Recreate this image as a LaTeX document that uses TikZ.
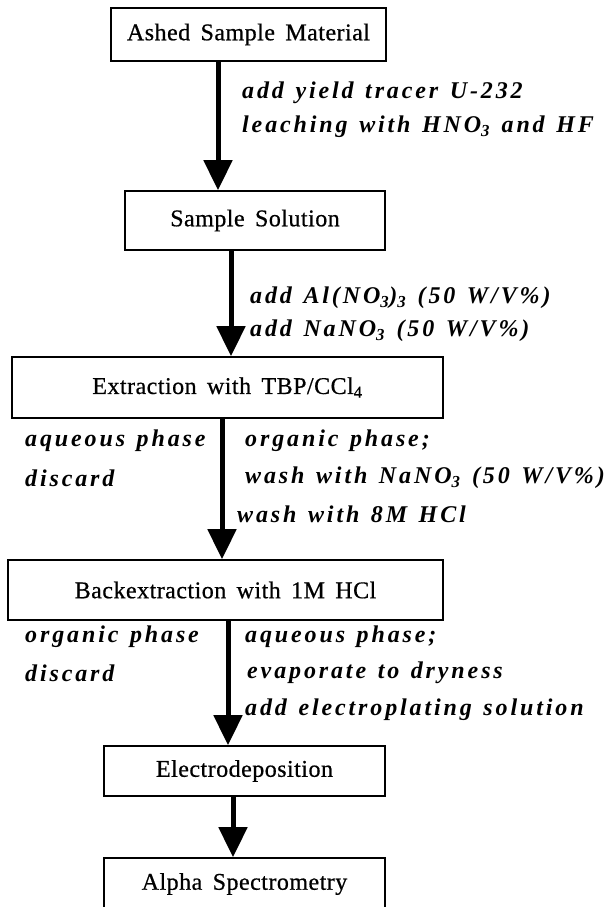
\documentclass[tikz,border=0pt]{standalone}
\usepackage{fontspec}
\setmainfont{Liberation Serif}
\newfontfamily\boxfont[LetterSpace=2,WordSpace=1.6,FakeBold=0.6]{Liberation Serif}
\newfontfamily\notefont[LetterSpace=12,WordSpace=1.3]{Liberation Serif}
\usetikzlibrary{arrows.meta}
\begin{document}
\begin{tikzpicture}[x=1pt,y=-1pt,
  stage/.style={draw, line width=1.6pt, inner sep=0pt,
    font=\boxfont\fontsize{24}{26}\selectfont},
  note/.style={anchor=west, inner sep=0pt,
    font=\notefont\fontsize{24}{27}\selectfont\bfseries\itshape},
  flow/.style={line width=5pt, -{Triangle[width=28pt,length=30pt]}}]

\useasboundingbox (0,0) rectangle (605,907);

% process stages
\node[stage, minimum width=275pt, minimum height=53pt] (ash)  at (248.5,34.5) {Ashed Sample Material};
\node[stage, minimum width=260pt, minimum height=59pt] (sol)  at (255,220.5)  {Sample Solution};
\node[stage, minimum width=431pt, minimum height=61pt] (ext)  at (227.5,387.5) {Extraction with TBP/CCl\textsubscript{4}};
\node[stage, minimum width=435pt, minimum height=60pt] (back) at (225.5,590)  {Backextraction with 1M HCl};
\node[stage, minimum width=281pt, minimum height=50pt] (elec) at (244.5,771)  {Electrodeposition};
\node[stage, minimum width=281pt, minimum height=52pt] (alpha) at (244.5,884) {Alpha Spectrometry};

% x positions of the flow arrows
\coordinate (xa) at (218,0);
\coordinate (xb) at (231,0);
\coordinate (xc) at (222,0);
\coordinate (xd) at (228,0);
\coordinate (xe) at (233,0);

\draw[flow] (ash.south -| xa)  -- (sol.north -| xa);
\draw[flow] (sol.south -| xb)  -- (ext.north -| xb);
\draw[flow] (ext.south -| xc)  -- (back.north -| xc);
\draw[flow] (back.south -| xd) -- (elec.north -| xd);
\draw[flow] (elec.south -| xe) -- (alpha.north -| xe);

% step annotations
\node[note] (n1) at (242,93)  {add yield tracer U-232};
\node[note] (n2) at (242,127) {leaching with HNO\textsubscript{3} and HF};
\node[note] (n3) at (250,298) {add Al(NO\textsubscript{3})\textsubscript{3} (50 W/V\%)};
\node[note] (n4) at (250,331) {add NaNO\textsubscript{3} (50 W/V\%)};

\node[note] (n5) at (25,441)  {aqueous phase};
\node[note] (n6) at (25,478)  {discard};
\node[note] (n7) at (245,441) {organic phase;};
\node[note] (n8) at (245,478) {wash with NaNO\textsubscript{3} (50 W/V\%)};
\node[note] (n9) at (237,514) {wash with 8M HCl};

\node[note] (n10) at (25,637)  {organic phase};
\node[note] (n11) at (25,673)  {discard};
\node[note] (n12) at (245,637) {aqueous phase;};
\node[note] (n13) at (247,673) {evaporate to dryness};
\node[note] (n14) at (245,710) {add electroplating solution};
\end{tikzpicture}
\end{document}
